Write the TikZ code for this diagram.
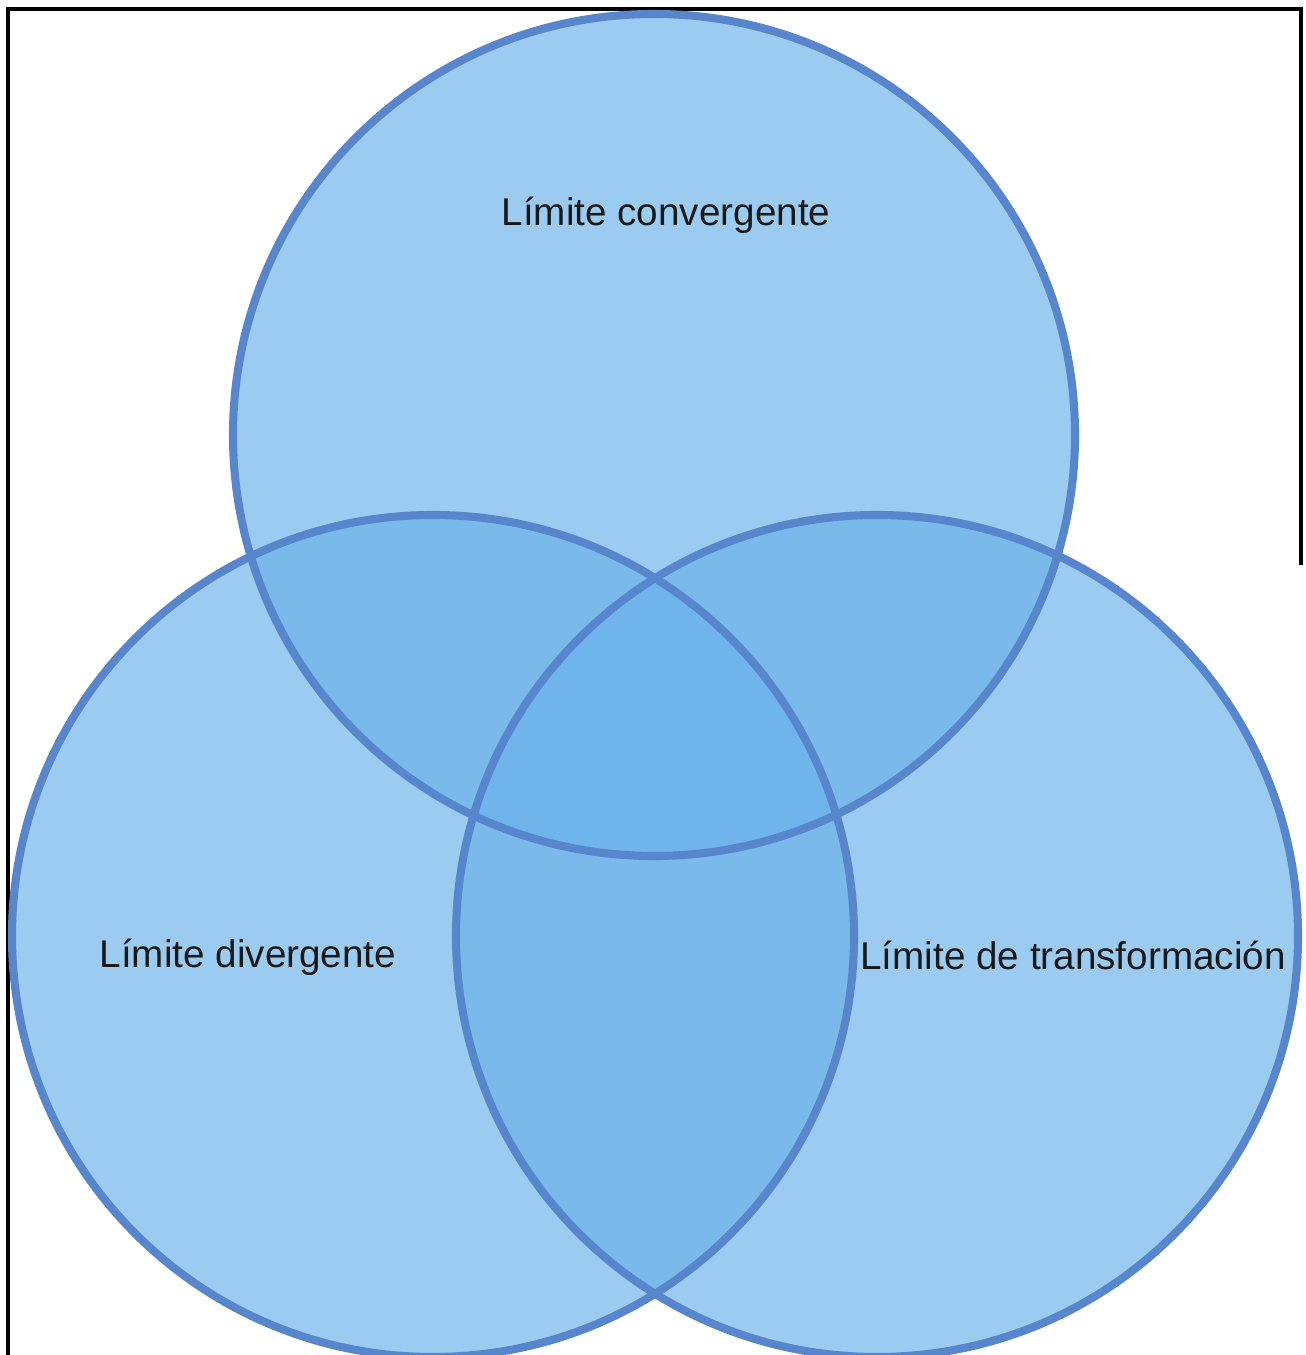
\documentclass[tikz,border=0pt]{standalone}
\usepackage{fontspec}
\setmainfont{Liberation Sans}
\definecolor{setfill}{RGB}{106,177,233}
\definecolor{setline}{RGB}{88,134,204}
\begin{document}
\begin{tikzpicture}
[setdecorate/.style={shape=circle,minimum size=8.42cm,inner sep=0pt,
   fill=setfill,fill opacity=0.67},%
  ringdecorate/.style={draw=setline,line width=2.3pt},%
  labeldecorate/.style={font=\fontsize{11}{13}\selectfont,text=black!90}]
\useasboundingbox (0,0) rectangle (13.05,13.55);
%% frame
\coordinate (fbl) at (0.08,0);
\coordinate (ftl) at (0.08,13.46);
\coordinate (ftr) at (13.01,13.46);
\coordinate (fbr) at (13.01,7.9);
\draw[line width=1pt] (fbl) -- (ftl) -- (ftr) -- (fbr);
%% sets
\foreach \nodename/\x/\y in {conv/6.54/9.20, div/4.33/4.19, trans/8.77/4.19} {
  \node (\nodename) at (\x,\y) [setdecorate] {};
}
\foreach \nodename in {conv, div, trans} {
  \draw[ringdecorate] (\nodename.center) circle [radius=4.21];
}
%% labels
\node (convlabel) at (6.66,11.40) [labeldecorate] {Límite convergente};
\node (divlabel) at (2.48,3.98) [labeldecorate] {Límite divergente};
\node (translabel) at (10.73,4.00) [labeldecorate] {Límite de transformación};
\end{tikzpicture}
\end{document}
